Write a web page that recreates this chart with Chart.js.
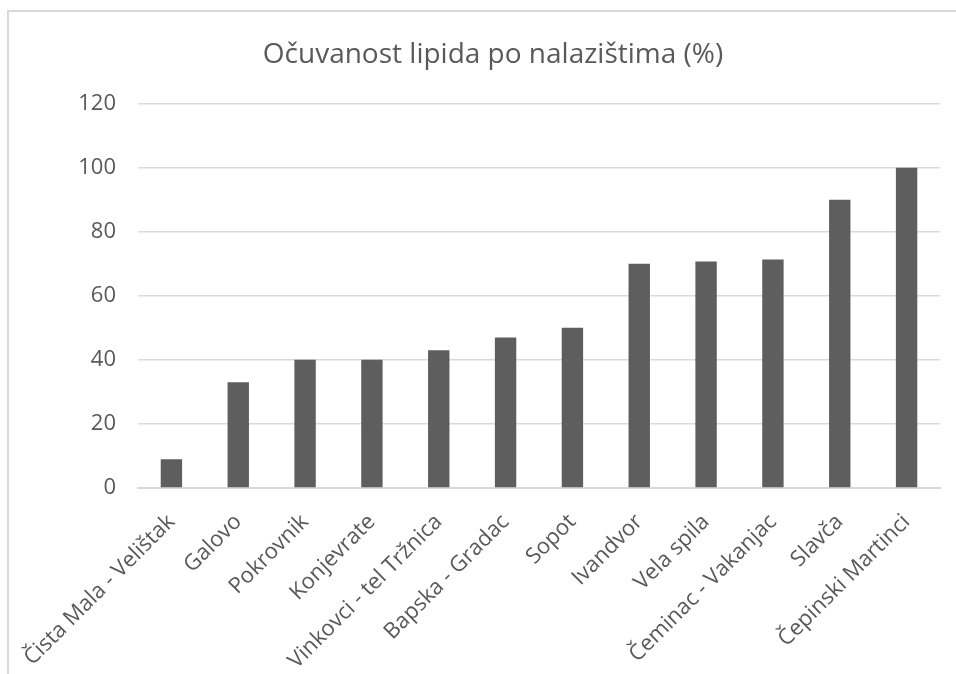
<!DOCTYPE html>
<html>
<head>
<meta charset="utf-8">
<title>Očuvanost lipida po nalazištima</title>
<script src="https://cdn.jsdelivr.net/npm/chart.js@4.4.1/dist/chart.umd.min.js"></script>
<style>
    body {
        margin: 0;
        background: #ffffff;
        overflow: hidden;
    }
    #frame {
        position: absolute;
        left: 7px;
        top: 10px;
        width: 1000px;
        height: 720px;
        border: 2px solid #d9d9d9;
    }
    #wrap {
        position: absolute;
        left: 0;
        top: 0;
        width: 956px;
        height: 674px;
    }
</style>
</head>
<body>
<div id="frame"></div>
<div id="wrap">
    <canvas id="lipidChart"></canvas>
</div>
<script>
// Sites and preserved lipid share (%)
const sites = [
    'Čista Mala - Velištak',
    'Galovo',
    'Pokrovnik',
    'Konjevrate',
    'Vinkovci - tel Tržnica',
    'Bapska - Gradac',
    'Sopot',
    'Ivandvor',
    'Vela spila',
    'Čeminac - Vakanjac',
    'Slavča',
    'Čepinski Martinci'
];
const lipidShare = [9, 33, 40, 40, 43, 47, 50, 70, 70.7, 71.3, 90, 100];
const yTicks = [0, 20, 40, 60, 80, 100, 120];

const textColor = '#595959';
const gridColor = '#d9d9d9';

const ctx = document.getElementById('lipidChart').getContext('2d');

new Chart(ctx, {
    type: 'bar',
    data: {
        labels: sites,
        datasets: [{
            label: 'Očuvanost lipida (%)',
            data: lipidShare,
            backgroundColor: '#5e5e5e',
            borderWidth: 0,
            barPercentage: 0.32,
            categoryPercentage: 1.0
        }]
    },
    options: {
        responsive: true,
        maintainAspectRatio: false,
        animation: false,
        layout: {
            // left padding keeps the title centred over the plot
            padding: { left: 46, right: 16, top: 0, bottom: 0 }
        },
        plugins: {
            legend: { display: false },
            tooltip: { enabled: false },
            title: {
                display: true,
                text: 'Očuvanost lipida po nalazištima (%)',
                color: textColor,
                font: { family: 'Open Sans', size: 28, weight: 'normal' },
                padding: { top: 38, bottom: 32 }
            }
        },
        scales: {
            x: {
                grid: { display: false },
                border: { display: true, color: gridColor, width: 2 },
                ticks: {
                    color: textColor,
                    font: { family: 'Open Sans', size: 22 },
                    minRotation: 45,
                    maxRotation: 45,
                    autoSkip: false,
                    padding: 13
                },
                afterFit: function(scale) {
                    scale.height = 186;
                }
            },
            y: {
                min: 0,
                max: 120,
                afterBuildTicks: function(scale) {
                    scale.ticks = yTicks.map(v => ({ value: v }));
                },
                grid: {
                    color: gridColor,
                    lineWidth: 1.5,
                    drawTicks: false
                },
                border: { display: false },
                ticks: {
                    color: textColor,
                    font: { family: 'Open Sans', size: 22 },
                    padding: 22
                },
                afterFit: function(scale) {
                    scale.width = 92;
                }
            }
        }
    }
});
</script>
</body>
</html>
